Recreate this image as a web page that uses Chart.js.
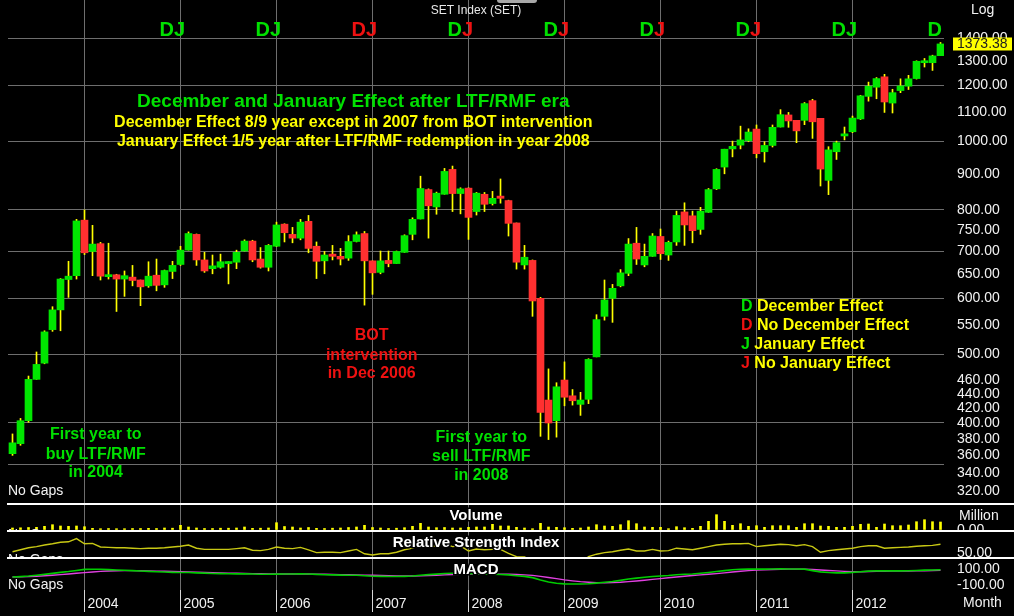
<!DOCTYPE html>
<html>
<head>
<meta charset="utf-8">
<title>SET Index monthly - December and January effect</title>
<script src="https://cdn.jsdelivr.net/npm/chart.js@4.4.1/dist/chart.umd.min.js"></script>
<style>
  html, body { margin: 0; padding: 0; background: #000; }
  #wrap { position: relative; width: 1014px; height: 616px; overflow: hidden; background: #000; }
  canvas { position: absolute; left: 0; }
  .sep { position: absolute; left: 7px; right: 0; height: 2px; background: #fff; }
  .tab { position: absolute; left: 497px; top: 0; width: 40px; height: 3px; background: #a8a8a8; border-radius: 0 0 3px 3px; }
</style>
</head>
<body>
<div id="wrap">
  <canvas id="price" width="1014" height="503" style="top:0"></canvas>
  <div class="tab"></div>
  <div class="sep" style="top:503px"></div>
  <canvas id="volume" width="1014" height="25" style="top:505px"></canvas>
  <div class="sep" style="top:530px"></div>
  <canvas id="rsi" width="1014" height="25" style="top:532px"></canvas>
  <div class="sep" style="top:557px"></div>
  <canvas id="macd" width="1014" height="57" style="top:559px"></canvas>
</div>
<script>
// monthly SET index, Apr 2003 .. Dec 2012
const yearLabels = ['2004', '2005', '2006', '2007', '2008', '2009', '2010', '2011', '2012'];
const priceTicks = [1400, 1300, 1200, 1100, 1000, 900, 800, 750, 700, 650, 600, 550, 500, 460, 440, 420, 400, 380, 360, 340, 320];
const priceGrid = [1400, 1200, 1000, 800, 700, 600, 500, 400, 350];

const open = [
  362, 374, 403, 461, 486, 542, 578, 638, 646,
  774, 699, 717, 644, 648, 639, 643, 637, 625, 647, 627, 655,
  670, 702, 739, 680, 661, 664, 672, 675, 700, 723, 682, 664,
  711, 764, 739, 730, 771, 711, 678, 693, 688, 684, 722, 741,
  678, 653, 679, 672, 697, 739, 777, 855, 808, 842, 913, 844,
  859, 796, 842, 817, 837, 825, 767, 669, 679, 600, 431, 403,
  460, 437, 425, 432, 496, 566, 600, 625, 651, 718, 669, 688,
  734, 691, 721, 795, 785, 751, 794, 857, 920, 976, 988, 1002,
  1041, 967, 987, 1048, 1090, 1071, 1071, 1142, 1078, 881, 967, 1018,
  1032, 1076, 1158, 1193, 1234, 1133, 1180, 1197, 1227, 1292, 1292, 1322
];
const high = [
  386, 406, 466, 504, 540, 584, 640, 677, 776,
  800, 761, 720, 718, 649, 656, 668, 637, 676, 682, 658, 677,
  711, 745, 740, 697, 691, 693, 676, 702, 726, 725, 708, 715,
  769, 765, 756, 776, 786, 721, 699, 713, 706, 736, 745, 746,
  678, 700, 700, 700, 738, 780, 893, 857, 848, 916, 923, 860,
  860, 847, 847, 850, 885, 826, 767, 713, 680, 602, 477, 456,
  488, 446, 442, 493, 569, 637, 628, 659, 729, 756, 716, 741,
  752, 723, 797, 819, 797, 807, 858, 915, 975, 1001, 1051, 1042,
  1055, 999, 1055, 1109, 1099, 1071, 1135, 1147, 1078, 983, 1001, 1048,
  1086, 1162, 1213, 1231, 1244, 1185, 1226, 1240, 1300, 1310, 1324, 1380
];
const low = [
  360, 372, 401, 461, 485, 539, 540, 602, 639,
  692, 646, 637, 639, 575, 604, 625, 586, 622, 615, 622, 640,
  668, 702, 668, 653, 650, 662, 629, 661, 700, 676, 662, 656,
  710, 721, 719, 726, 696, 640, 650, 680, 669, 679, 721, 587,
  608, 650, 665, 672, 697, 726, 777, 730, 789, 842, 796, 790,
  727, 787, 796, 813, 818, 735, 660, 660, 566, 383, 379, 382,
  423, 424, 410, 426, 496, 559, 555, 623, 646, 670, 665, 688,
  681, 679, 713, 713, 719, 739, 794, 855, 900, 951, 976, 999,
  948, 935, 982, 1048, 1047, 996, 1056, 1010, 865, 841, 943, 1005,
  1029, 1074, 1140, 1149, 1099, 1097, 1172, 1184, 1225, 1274, 1260, 1322
];
const close = [
  375, 403, 461, 484, 538, 578, 639, 645, 772,
  696, 716, 645, 647, 639, 646, 636, 623, 645, 626, 657, 668,
  702, 741, 680, 656, 667, 676, 676, 697, 723, 680, 664, 713,
  762, 743, 730, 769, 706, 677, 691, 688, 682, 722, 738, 678,
  652, 678, 672, 699, 736, 776, 858, 811, 845, 907, 844, 857,
  781, 845, 815, 831, 831, 766, 675, 686, 595, 414, 400, 450,
  435, 430, 431, 492, 560, 597, 620, 652, 716, 682, 688, 735,
  694, 720, 786, 762, 748, 797, 855, 913, 975, 984, 1005, 1031,
  961, 987, 1047, 1091, 1069, 1035, 1131, 1066, 914, 973, 996, 1025,
  1079, 1160, 1197, 1227, 1137, 1172, 1198, 1226, 1298, 1298, 1321, 1373.38
];
const volume = [
  20, 22, 25, 27, 37, 53, 40, 37, 40,
  33, 17, 13, 15, 13, 13, 15, 15, 17, 15, 20, 18,
  47, 30, 20, 15, 15, 18, 18, 20, 30, 17, 18, 20,
  73, 35, 30, 20, 25, 17, 15, 18, 20, 25, 30, 47,
  25, 20, 15, 18, 23, 37, 67, 30, 23, 25, 20, 20,
  27, 30, 30, 57, 40, 40, 27, 20, 13, 67, 30, 27,
  23, 17, 20, 30, 53, 40, 37, 53, 93, 63, 30, 27,
  27, 13, 33, 23, 17, 37, 87, 153, 87, 47, 63, 37,
  43, 27, 43, 43, 43, 27, 63, 63, 40, 37, 27, 27,
  37, 57, 60, 27, 60, 43, 43, 50, 83, 103, 83, 80
];
const rsi = [
  53, 58, 63, 66, 70, 73, 77, 78, 86,
  73, 74, 65, 64, 63, 63, 62, 61, 62, 62, 63, 65,
  67, 70, 62, 59, 59, 59, 59, 61, 63, 57, 56, 59,
  65, 62, 61, 64, 58, 51, 52, 52, 51, 55, 59, 48,
  45, 48, 48, 52, 58, 62, 70, 65, 68, 74, 66, 68,
  55, 60, 58, 59, 59, 49, 41, 40, 30, 18, 17, 24,
  23, 22, 22, 41, 47, 51, 53, 57, 60, 55, 55, 59,
  55, 56, 62, 60, 58, 62, 66, 70, 72, 73, 73, 74,
  66, 68, 70, 72, 71, 68, 71, 66, 52, 56, 58, 60,
  62, 66, 68, 68, 62, 63, 64, 65, 67, 68, 69, 72
];
const macd = [
  0, 5, 12, 22, 33, 45, 58, 68, 82,
  95, 97, 96, 92, 88, 84, 80, 75, 70, 66, 62, 58,
  56, 56, 52, 48, 44, 42, 40, 39, 40, 38, 35, 34,
  36, 38, 38, 39, 37, 33, 29, 26, 23, 22, 22, 16,
  10, 8, 6, 6, 8, 12, 22, 30, 36, 44, 46, 48,
  42, 40, 36, 34, 32, 26, 16, 8, -8, -38, -62, -78,
  -86, -88, -88, -84, -76, -66, -56, -42, -26, -14, -4, 6,
  12, 18, 28, 34, 38, 46, 56, 68, 80, 90, 96, 100,
  98, 98, 100, 102, 100, 100, 98, 80, 64, 56, 52, 52,
  58, 66, 74, 78, 76, 76, 76, 78, 82, 86, 88, 90
];
const signal = [
  0, 2, 5, 9, 15, 22, 30, 38, 46,
  55, 63, 70, 75, 78, 80, 80, 79, 77, 74, 71, 68,
  65, 63, 60, 57, 54, 51, 48, 46, 44, 42, 40, 38,
  37, 37, 37, 37, 37, 36, 34, 32, 30, 28, 26, 24,
  21, 18, 15, 13, 12, 12, 14, 18, 22, 27, 31, 35,
  37, 38, 38, 37, 36, 34, 31, 27, 20, 8, -6, -21,
  -36, -48, -58, -65, -70, -72, -70, -66, -58, -50, -40, -30,
  -20, -10, 0, 10, 18, 26, 34, 42, 52, 62, 72, 80,
  86, 90, 93, 96, 98, 98, 98, 94, 88, 82, 76, 70,
  66, 66, 68, 70, 72, 73, 74, 75, 77, 79, 81, 84
];
// Dec 2004 .. Dec 2012 and Jan 2005 .. Jan 2012
const decEffect = [true, true, false, true, true, true, true, true, true];
const janEffect = [true, true, false, false, false, false, false, true];

const GREEN = '#00e600', RED = '#ff3030', WICK = '#ffff00';
const TXT_GREEN = '#00e000', TXT_RED = '#ee1111', TXT_YELLOW = '#ffff00';
const GRID = '#6e6e6e', CYAN = '#00a8a8', WHITE = '#f2f2f2';
const FONT = '"Liberation Sans", Arial, sans-serif';
const bold = s => `bold ${s}px ${FONT}`;
const plain = s => `${s}px ${FONT}`;

const idx = open.map((_, i) => i);
const janIdx = yearLabels.map((_, k) => 9 + 12 * k);
const decIdx = decEffect.map((_, k) => 20 + 12 * k);

// annotation text, anchored in data space (month index, index level)
const notes = [
  { text: 'December and January Effect after LTF/RMF era', x: 42.6, y: 1138, size: 19, color: TXT_GREEN },
  { text: 'December Effect 8/9 year except in 2007 from BOT intervention', x: 42.6, y: 1063, size: 16, color: TXT_YELLOW },
  { text: 'January Effect 1/5 year after LTF/RMF redemption in year 2008', x: 42.6, y: 999, size: 16, color: TXT_YELLOW },
  { text: 'BOT', x: 44.9, y: 531, size: 16, color: TXT_RED },
  { text: 'intervention', x: 44.9, y: 498, size: 16, color: TXT_RED },
  { text: 'in Dec 2006', x: 44.9, y: 469, size: 16, color: TXT_RED },
  { text: 'First year to', x: 10.4, y: 385, size: 16, color: TXT_GREEN },
  { text: 'buy LTF/RMF', x: 10.4, y: 361, size: 16, color: TXT_GREEN },
  { text: 'in 2004', x: 10.4, y: 340, size: 16, color: TXT_GREEN },
  { text: 'First year to', x: 58.6, y: 382, size: 16, color: TXT_GREEN },
  { text: 'sell LTF/RMF', x: 58.6, y: 359, size: 16, color: TXT_GREEN },
  { text: 'in 2008', x: 58.6, y: 337, size: 16, color: TXT_GREEN }
];
const keyItems = [
  { letter: 'D', color: TXT_GREEN, text: 'December Effect', y: 584 },
  { letter: 'D', color: TXT_RED, text: 'No December Effect', y: 549 },
  { letter: 'J', color: TXT_GREEN, text: 'January Effect', y: 517 },
  { letter: 'J', color: TXT_RED, text: 'No January Effect', y: 486 }
];
const keyX = 91.06, djLevel = 1437;

function label(ctx, text, x, y, font, color, align, outline) {
  ctx.font = font;
  ctx.textAlign = align || 'center';
  ctx.textBaseline = 'middle';
  if (outline) {
    ctx.lineWidth = 3;
    ctx.strokeStyle = '#000';
    ctx.strokeText(text, x, y);
  }
  ctx.fillStyle = color;
  ctx.fillText(text, x, y);
}

// shared month axis; the -1/16 shift puts candle centres on half pixels so 1px wicks stay sharp
function monthAxis(withLabels) {
  return {
    type: 'linear', min: -0.5625, max: 116.4375, bounds: 'data', offset: false,
    afterBuildTicks: s => { s.ticks = janIdx.map(v => ({ value: v })); },
    afterFit: s => { s.height = withLabels ? 26 : 0; s.paddingLeft = 0; s.paddingRight = 0; },
    grid: { color: GRID, offset: false, drawTicks: withLabels, tickLength: 22, tickColor: '#d8d8d8' },
    border: { display: false },
    ticks: {
      display: withLabels, color: WHITE, font: { family: FONT, size: 14 },
      align: 'start', labelOffset: 3, padding: -16, autoSkip: false, maxRotation: 0,
      callback: v => yearLabels[janIdx.indexOf(v)]
    }
  };
}
function fitRight(s) { s.width = 70; s.paddingTop = 0; s.paddingBottom = 0; }

const base = {
  responsive: false, animation: false, events: [],
  layout: { padding: { left: 8, right: 0, top: 0, bottom: 0 } },
  plugins: { legend: { display: false }, tooltip: { enabled: false } }
};

const priceNotes = {
  id: 'priceNotes',
  afterDraw(chart) {
    const { ctx, chartArea: a, scales: { x, y } } = chart;
    ctx.save();
    decEffect.forEach((ok, k) => {
      const px = x.getPixelForValue(decIdx[k]) + 1.5, py = y.getPixelForValue(djLevel);
      label(ctx, 'D', px, py, bold(20), ok ? TXT_GREEN : TXT_RED, 'right');
      if (k < janEffect.length) label(ctx, 'J', px, py, bold(20), janEffect[k] ? TXT_GREEN : TXT_RED, 'left');
    });
    notes.forEach(n => label(ctx, n.text, x.getPixelForValue(n.x), y.getPixelForValue(n.y), bold(n.size), n.color));
    keyItems.forEach(k => {
      const px = x.getPixelForValue(keyX), py = y.getPixelForValue(k.y);
      label(ctx, k.letter, px, py, bold(16), k.color, 'left');
      const w = ctx.measureText(k.letter + ' ').width;
      label(ctx, k.text, px + w, py, bold(16), TXT_YELLOW, 'left');
    });
    label(ctx, 'SET Index (SET)', (a.left + a.right) / 2, 11, plain(12), '#e8e8e8');
    label(ctx, 'Log', a.right + 27, 10, plain(14), WHITE, 'left');
    label(ctx, 'No Gaps', a.left, a.bottom - 12, plain(14), WHITE, 'left');
    // last price tag
    const last = close[close.length - 1];
    const ly = y.getPixelForValue(last);
    ctx.fillStyle = '#ffff00';
    ctx.fillRect(a.right + 9, Math.round(ly) - 6.5, 59, 13);
    label(ctx, last.toFixed(2), a.right + 13, ly, plain(14), '#202020', 'left');
    ctx.restore();
  }
};

new Chart(document.getElementById('price'), {
  type: 'bar',
  data: {
    datasets: [
      {
        label: 'body', order: 0, grouped: false, barThickness: 7, minBarLength: 2,
        data: idx.map(i => ({ x: i, y: [open[i], close[i]] })),
        backgroundColor: idx.map(i => close[i] >= open[i] ? GREEN : RED)
      },
      {
        label: 'wick', order: 1, grouped: false, barThickness: 1,
        data: idx.map(i => ({ x: i, y: [low[i], high[i]] })),
        backgroundColor: WICK
      }
    ]
  },
  options: {
    ...base,
    scales: {
      x: monthAxis(false),
      y: {
        type: 'logarithmic', position: 'right', min: 308.3, max: 1584.5, bounds: 'data', beginAtZero: false,
        afterBuildTicks: s => { s.ticks = priceTicks.concat([350]).map(v => ({ value: v })); },
        afterFit: fitRight,
        grid: { color: c => priceGrid.includes(c.tick.value) ? GRID : 'rgba(0,0,0,0)', drawTicks: false },
        border: { display: false },
        ticks: {
          color: WHITE, font: { family: FONT, size: 14 }, padding: 13,
          callback: v => priceTicks.includes(v) ? v.toFixed(2) : ''
        }
      }
    }
  },
  plugins: [priceNotes]
});

function panelNotes(title, opts) {
  return {
    id: 'panelNotes',
    afterDraw(chart) {
      const { ctx, chartArea: a } = chart;
      ctx.save();
      label(ctx, 'No Gaps', a.left, a.bottom + (opts.gapsDy || 5), plain(14), WHITE, 'left');
      label(ctx, title, (a.left + a.right) / 2, a.top + 11, bold(15), '#ffffff', 'center', true);
      if (opts.right) label(ctx, opts.right, a.right + 15, a.top + 11, plain(14), WHITE, 'left');
      if (opts.unit) label(ctx, opts.unit, a.right + 19, a.bottom + 13, plain(14), WHITE, 'left');
      ctx.restore();
    }
  };
}

function valueAxis(min, max, ticks, labelled, lineAt) {
  return {
    type: 'linear', position: 'right', min, max, bounds: 'data',
    afterBuildTicks: s => { s.ticks = ticks.map(v => ({ value: v })); },
    afterFit: fitRight,
    grid: { color: c => c.tick.value === lineAt ? CYAN : 'rgba(0,0,0,0)', drawTicks: false },
    border: { display: false },
    ticks: {
      color: WHITE, font: { family: FONT, size: 14 }, padding: 13,
      callback: v => labelled.includes(v) ? v.toFixed(2) : ''
    }
  };
}

new Chart(document.getElementById('volume'), {
  type: 'bar',
  data: {
    datasets: [{
      label: 'Volume', grouped: false, barThickness: 2, backgroundColor: '#ffff00',
      data: idx.map(i => ({ x: i, y: volume[i] }))
    }]
  },
  options: { ...base, scales: { x: monthAxis(false), y: valueAxis(0, 250, [0], [0], null) } },
  plugins: [panelNotes('Volume', { right: 'Million' })]
});

new Chart(document.getElementById('rsi'), {
  type: 'line',
  data: {
    datasets: [{
      label: 'RSI', borderColor: '#c8c814', borderWidth: 1.4, pointRadius: 0,
      data: idx.map(i => ({ x: i, y: rsi[i] }))
    }]
  },
  options: { ...base, scales: { x: monthAxis(false), y: valueAxis(40, 102.5, [50, 70], [50], 70) } },
  plugins: [panelNotes('Relative Strength Index', { gapsDy: 3 })]
});

new Chart(document.getElementById('macd'), {
  type: 'line',
  data: {
    datasets: [
      { label: 'MACD', borderColor: '#00cc00', borderWidth: 1.6, pointRadius: 0, data: idx.map(i => ({ x: i, y: macd[i] })) },
      { label: 'Signal', borderColor: '#e040e0', borderWidth: 1.4, pointRadius: 0, data: idx.map(i => ({ x: i, y: signal[i] })) }
    ]
  },
  options: { ...base, scales: { x: monthAxis(true), y: valueAxis(-162.5, 225, [-100, 0, 100], [-100, 100], 0) } },
  plugins: [panelNotes('MACD', { gapsDy: -5, unit: 'Month' })]
});
</script>
</body>
</html>
